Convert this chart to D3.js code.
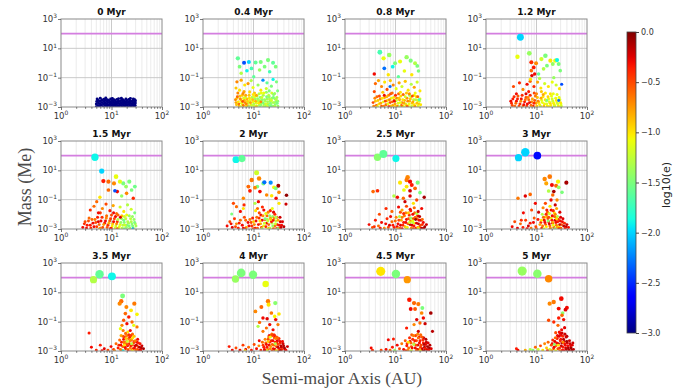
<!DOCTYPE html>
<html><head><meta charset="utf-8">
<script src="https://cdn.jsdelivr.net/npm/d3@7"></script>
<style>body{margin:0;background:#fff}svg{display:block}</style>
</head><body>
<svg id="fig" width="683" height="392"></svg>
<script>
// Snapshot labels
const times = ["0 Myr","0.4 Myr","0.8 Myr","1.2 Myr","1.5 Myr","2 Myr","2.5 Myr","3 Myr","3.5 Myr","4 Myr","4.5 Myr","5 Myr"];

// Each body: [semi-major axis (AU), log10 mass (Me), log10 eccentricity]
const snap00 = [[5.0,-2.98,-3],[5.0,-2.8,-3],[5.1,-2.62,-3],[5.2,-2.45,-3],[5.4,-2.9,-3],[5.5,-2.72,-3],[5.5,-2.55,-3],
[5.8,-2.97,-3],[5.9,-2.78,-3],[6.0,-2.6,-3],[6.0,-2.4,-3],[6.3,-2.88,-3],[6.4,-2.7,-3],[6.5,-2.52,-3],
[6.8,-2.99,-3],[6.9,-2.8,-3],[7.0,-2.63,-3],[7.1,-2.47,-3],[7.4,-2.9,-3],[7.5,-2.74,-3],[7.6,-2.56,-3],[7.7,-2.38,-3],
[8.0,-2.96,-3],[8.1,-2.81,-3],[8.2,-2.65,-3],[8.3,-2.5,-3],[8.7,-2.88,-3],[8.8,-2.7,-3],[8.9,-2.55,-3],
[9.3,-2.98,-3],[9.4,-2.8,-3],[9.5,-2.64,-3],[9.6,-2.45,-3],[10.0,-2.9,-3],[10.1,-2.73,-3],[10.3,-2.57,-3],[10.4,-2.42,-3],
[10.8,-2.97,-3],[10.9,-2.82,-3],[11.0,-2.66,-3],[11.2,-2.5,-3],[11.6,-2.9,-3],[11.7,-2.74,-3],[11.9,-2.58,-3],
[12.4,-2.99,-3],[12.5,-2.83,-3],[12.7,-2.67,-3],[12.8,-2.48,-3],[13.3,-2.91,-3],[13.4,-2.75,-3],[13.6,-2.6,-3],[13.8,-2.44,-3],
[14.2,-2.97,-3],[14.4,-2.8,-3],[14.6,-2.63,-3],[15.2,-2.89,-3],[15.4,-2.72,-3],[15.6,-2.55,-3],[15.7,-2.4,-3],
[16.3,-2.98,-3],[16.5,-2.82,-3],[16.7,-2.66,-3],[16.9,-2.5,-3],[17.5,-2.9,-3],[17.7,-2.74,-3],[17.9,-2.58,-3],
[18.7,-2.97,-3],[18.9,-2.8,-3],[19.1,-2.64,-3],[19.3,-2.46,-3],[20.0,-2.88,-3],[20.2,-2.71,-3],[20.5,-2.55,-3],
[21.4,-2.99,-3],[21.6,-2.82,-3],[21.9,-2.66,-3],[22.1,-2.48,-3],[23.0,-2.9,-3],[23.2,-2.74,-3],[23.5,-2.58,-3],[23.7,-2.42,-3],
[24.6,-2.97,-3],[24.9,-2.8,-3],[25.2,-2.63,-3],[26.3,-2.89,-3],[26.6,-2.72,-3],[26.9,-2.55,-3],[27.1,-2.45,-3],
[28.1,-2.98,-3],[28.4,-2.81,-3],[28.7,-2.65,-3],[28.9,-2.5,-3],[29.5,-2.9,-3],[29.7,-2.72,-3],[29.8,-2.57,-3]];

const snap04 = [[4.5,-2.7,-0.8],[4.7,-2.4,-1.0],[5.1,-2.8,-0.6],[5.4,-2.25,-0.9],[5.7,-2.55,-1.0],[6.1,-2.85,-0.8],[6.4,-2.4,-1.1],[6.8,-2.7,-0.7],[7.1,-2.95,-1.0],[7.4,-2.45,-0.85],[7.8,-2.75,-1.2],[8.2,-2.2,-0.9],[8.5,-2.55,-1.1],[8.9,-2.85,-0.95],[9.4,-2.35,-1.3],[9.8,-2.65,-1.05],[10.3,-2.95,-1.2],[10.8,-2.45,-1.4],[11.3,-2.75,-1.15],[11.8,-2.25,-1.3],[12.4,-2.6,-1.25],[13.0,-2.9,-1.35],[13.6,-2.35,-1.5],[14.2,-2.8,-1.3],[14.9,-2.5,-1.45],[15.6,-2.2,-1.35],[16.3,-2.8,-1.5],[17.0,-2.6,-1.3],[17.8,-2.95,-1.45],[18.6,-2.45,-1.35],[19.5,-2.8,-1.25],[20.4,-2.3,-1.5],[21.3,-2.6,-1.35],[22.3,-2.9,-1.5],[23.3,-2.4,-1.4],[24.3,-2.7,-1.3],[25.4,-2.95,-1.55],[26.6,-2.45,-1.4],[27.8,-2.65,-1.5],[29.0,-2.35,-1.35],[30.2,-2.6,-1.45],[10.5,-2.05,-0.9],[18.0,-2.0,-1.4],[23.0,-2.05,-1.2],[6.5,-1.95,-0.8],[14.0,-1.85,-1.0],[20.5,-1.9,-1.5],
[4.4,-2.5,-0.7],[4.6,-2.85,-0.9],[4.8,-2.3,-0.6],[5.0,-2.65,-1.0],[5.2,-2.95,-0.8],[5.5,-2.45,-0.7],[5.8,-2.75,-1.1],[6.0,-2.2,-0.9],[6.3,-2.9,-0.65],[6.6,-2.55,-0.85],[6.9,-2.35,-1.2],[7.2,-2.8,-0.7],[7.6,-2.6,-0.95],[7.9,-2.95,-0.75],[8.3,-2.4,-1.0],[8.7,-2.7,-0.8],[9.2,-2.9,-1.2],[9.6,-2.5,-0.9],[10.1,-2.8,-1.3],[10.5,-2.3,-1.1],[11.0,-2.6,-0.85],[11.6,-2.95,-1.25],[12.1,-2.45,-1.4],[12.7,-2.75,-1.0],[13.3,-2.55,-1.3],[13.9,-2.9,-1.45],[14.6,-2.35,-1.2],[15.2,-2.7,-1.5],[15.9,-2.95,-1.3],[16.6,-2.5,-1.4],[17.4,-2.8,-1.2],[18.2,-2.3,-1.5],[19.0,-2.65,-1.35],[19.9,-2.9,-1.5],[20.8,-2.45,-1.3],[21.7,-2.75,-1.45],[22.7,-2.55,-1.2],[23.7,-2.95,-1.4],[24.8,-2.35,-1.5],[25.9,-2.7,-1.35],[27.0,-2.85,-1.45],[28.2,-2.5,-1.3],[29.5,-2.75,-1.5],[30.5,-2.95,-1.4],[7.0,-2.2,-0.8],[9.9,-2.15,-1.0],[12.9,-2.1,-1.3],[16.0,-2.05,-1.1],[25.0,-2.15,-1.45],[4.9,-2.05,-0.7],[8.1,-2.98,-1.4],[11.3,-2.98,-0.9],[14.0,-2.65,-0.7],[18.8,-2.98,-1.1],[22.0,-2.98,-1.55],[26.5,-2.98,-1.25],[5.6,-2.98,-1.2],[6.1,-2.62,-0.55],
[4.7,-1.28,-0.7],[5.7,-1.17,-0.8],[6.7,-1.5,-1.0],[7.8,-1.4,-0.75],[9.8,-1.67,-1.1],[12.3,-1.5,-1.4],[17.9,-1.74,-1.2],[22.6,-1.58,-1.5],[5.3,-1.85,-1.0],[6.2,-2.08,-0.7],[8.4,-1.97,-0.95],[11.4,-2.2,-0.8],[14.3,-2.04,-1.1],[26.3,-2.08,-1.4],[4.5,-1.7,-0.9],[9.0,-1.2,-1.3],[18.5,-1.35,-1.6],[30,-1.9,-1.5],[20,-2.2,-1.3],
[4.9,0.32,-1.6],[6.5,0.02,-2.4],[8.1,0.07,-2.0],[11,0.03,-1.6],[13.9,0.07,-1.5],[19.4,0.2,-1.5],[24.4,0.02,-1.6],[27.5,-0.25,-1.5],[5.3,-0.25,-1.5],[7.4,-0.53,-1.9],[9.1,-0.37,-1.7],[13.2,-0.48,-1.4],[16.6,-0.25,-1.5],[20.9,-0.6,-1.7],[5.7,-0.7,-1.3],[10.1,-0.94,-1.6],[15.4,-1.17,-2.2],[24.4,-1.12,-1.9],[28.5,-1.28,-1.5]];

const snap08 = [[3.7,-2.95,-0.7],[4.0,-2.6,-0.9],[4.3,-2.3,-0.6],[4.7,-2.8,-1.0],[5.0,-2.45,-0.7],[5.3,-2.95,-0.55],[5.7,-2.65,-1.1],[6.1,-2.35,-0.8],[6.5,-2.85,-0.6],[6.9,-2.55,-0.95],[7.3,-2.2,-0.7],[7.8,-2.7,-0.5],[8.3,-2.4,-1.1],[8.8,-2.9,-0.8],[9.4,-2.55,-0.6],[10.0,-2.95,-1.0],[10.6,-2.4,-0.7],[11.3,-2.75,-1.15],[12.0,-2.5,-0.8],[12.7,-2.25,-0.95],[13.5,-2.7,-0.65],[14.3,-2.95,-1.05],[15.1,-2.55,-0.85],[16.0,-2.8,-1.2],[16.9,-2.4,-0.75],[17.9,-2.95,-1.0],[19.0,-2.6,-0.85],[20.2,-2.3,-1.1],[21.4,-2.75,-0.9],[22.8,-2.5,-1.2],[24.3,-2.95,-0.8],[25.8,-2.3,-1.0],[27.3,-2.55,-1.15],[28.9,-2.8,-0.9],[30.5,-2.45,-1.1],[11.5,-2.1,-0.6],[16.5,-2.05,-0.9],[8.0,-2.1,-0.5],[23.5,-2.2,-1.0],
[3.6,-2.7,-0.5],[3.9,-2.4,-0.7],[4.2,-2.9,-0.6],[4.5,-2.55,-0.9],[4.8,-2.25,-0.5],[5.1,-2.75,-0.8],[5.5,-2.4,-1.0],[5.9,-2.95,-0.7],[6.3,-2.6,-0.5],[6.7,-2.3,-0.85],[7.1,-2.8,-1.1],[7.6,-2.5,-0.7],[8.1,-2.95,-0.9],[8.6,-2.65,-0.6],[9.2,-2.35,-1.0],[9.8,-2.8,-0.8],[10.4,-2.55,-1.2],[11.0,-2.95,-0.7],[11.7,-2.4,-0.9],[12.4,-2.7,-1.1],[13.1,-2.9,-0.6],[13.9,-2.5,-1.0],[14.7,-2.75,-0.8],[15.6,-2.3,-1.2],[16.5,-2.9,-0.9],[17.5,-2.6,-0.7],[18.6,-2.8,-1.1],[19.7,-2.45,-0.9],[20.9,-2.95,-1.2],[22.2,-2.65,-0.8],[23.5,-2.85,-1.0],[25.0,-2.5,-1.3],[26.5,-2.75,-0.9],[28.1,-2.95,-1.1],[29.8,-2.6,-1.2],[31.5,-2.85,-1.0],[6.0,-2.2,-0.3],[10.0,-2.2,-0.4],[14.2,-2.15,-0.6],[21.5,-2.25,-0.5],[7.4,-2.98,-0.4],[12.0,-2.98,-1.3],[17.0,-2.98,-0.5],[24.2,-2.98,-0.7],[4.4,-2.98,-1.1],[9.5,-2.6,-0.3],[19.0,-2.2,-1.4],[27.5,-2.3,-0.6],
[4.0,-1.4,-0.6],[4.6,-1.2,-0.8],[5.3,-1.6,-0.7],[6.1,-1.3,-1.0],[6.8,-1.8,-0.5],[7.9,-1.2,-0.9],[9.0,-1.5,-0.7],[10.3,-1.75,-1.1],[11.8,-1.35,-0.8],[13.4,-1.6,-1.2],[15.6,-1.25,-0.9],[17.8,-1.85,-1.0],[20.5,-1.45,-1.3],[23.5,-1.65,-0.8],[26.8,-1.3,-1.2],[30.5,-1.9,-1.0],[3.8,-1.95,-0.5],[5.6,-2.0,-0.9],[8.6,-2.05,-0.6],[12.5,-2.0,-1.0],[18.8,-2.1,-0.7],[24.5,-2.05,-1.1],
[4.9,0.73,-1.7],[5.8,0.32,-1.1],[7.5,0.55,-1.4],[6.0,-0.36,-2.3],[8.8,-0.25,-1.9],[3.8,-0.75,-0.3],[9.8,-0.02,-1.5],[12.3,0.1,-1.1],[16.6,0.4,-1.4],[20,0.16,-1.5],[24.4,-0.02,-1.3],[27,-0.2,-1.5],[28.5,-0.55,-1.5],[11.4,-0.93,-1.6],[21,-0.8,-1.0],[7.2,-0.8,-1.0],[15,-0.55,-1.1],[7.8,-1.6,-2.3],[29.5,-2.5,-1.7]];

const snap12 = [[3.2,-2.75,-0.4],[3.4,-2.45,-0.35],[3.7,-2.95,-0.6],[4.0,-2.6,-0.3],[4.3,-2.25,-0.55],[4.7,-2.8,-0.4],[5.0,-2.45,-0.3],[5.4,-2.95,-0.65],[5.8,-2.65,-0.35],[6.2,-2.35,-0.5],[6.6,-2.8,-0.3],[7.0,-2.5,-0.6],[7.5,-2.2,-0.4],[8.0,-2.65,-0.7],[8.6,-2.95,-0.35],[9.2,-2.55,-0.55],[9.8,-2.75,-0.8],[10.4,-2.35,-0.9],[11.1,-2.7,-1.0],[11.9,-2.95,-0.9],[12.7,-2.55,-1.1],[13.5,-2.3,-1.0],[14.4,-2.8,-1.05],[15.4,-2.55,-1.15],[16.4,-2.95,-1.0],[17.4,-2.45,-1.1],[18.6,-2.75,-0.95],[19.8,-2.25,-1.1],[21.1,-2.6,-1.2],[22.5,-2.85,-1.0],[24.0,-2.4,-1.1],[25.5,-2.7,-1.15],[27.2,-2.95,-1.05],[29.0,-2.5,-1.15],[30.5,-2.8,-1.1],[10.0,-2.1,-0.7],[15.0,-2.05,-1.0],[21.5,-2.1,-1.1],[7.0,-1.95,-0.35],[12.5,-1.95,-0.9],
[3.1,-2.6,-0.3],[3.3,-2.9,-0.5],[3.6,-2.3,-0.4],[3.9,-2.75,-0.6],[4.2,-2.45,-0.35],[4.5,-2.95,-0.5],[4.9,-2.6,-0.7],[5.2,-2.2,-0.4],[5.6,-2.85,-0.3],[6.0,-2.5,-0.6],[6.4,-2.95,-0.45],[6.8,-2.35,-0.7],[7.3,-2.7,-0.3],[7.8,-2.9,-0.55],[8.3,-2.45,-0.8],[8.9,-2.75,-0.4],[9.5,-2.25,-0.65],[10.1,-2.95,-0.9],[10.8,-2.6,-0.7],[11.5,-2.85,-1.0],[12.3,-2.4,-0.8],[13.1,-2.7,-1.1],[14.0,-2.95,-0.9],[14.9,-2.5,-1.0],[15.9,-2.8,-1.15],[16.9,-2.3,-0.95],[18.0,-2.65,-1.1],[19.2,-2.9,-1.0],[20.4,-2.45,-1.2],[21.8,-2.75,-1.05],[23.2,-2.95,-1.15],[24.7,-2.55,-1.0],[26.3,-2.8,-1.2],[28.0,-2.35,-1.1],[29.8,-2.7,-1.0],[31.0,-2.95,-1.2],[6.2,-2.1,-0.25],[9.0,-2.05,-0.5],[13.6,-2.15,-0.8],[18.8,-2.1,-1.0],[25.5,-2.15,-1.1],[12.0,-2.98,-1.3],[17.5,-2.98,-1.05],[22.5,-2.98,-1.25],[27.0,-2.98,-1.0],[8.0,-2.98,-0.7],[4.0,-2.1,-0.3],[16.0,-2.55,-1.5],[27.5,-2.55,-2.3],
[3.5,-1.6,-0.5],[4.6,-1.35,-0.4],[5.4,-1.8,-0.7],[6.5,-1.45,-0.3],[7.5,-1.25,-0.6],[8.9,-1.6,-0.4],[10.5,-1.3,-0.8],[12.2,-1.7,-1.0],[14.5,-1.4,-1.2],[17.2,-1.6,-1.0],[20.5,-1.3,-1.1],[24.5,-1.5,-1.2],[28.5,-1.75,-1.0],[31.5,-1.45,-2.4],[11.5,-1.05,-1.3],[22.0,-1.0,-1.4],
[7.9,0.05,-0.4],[8.8,-0.3,-0.35],[7.9,-0.52,-0.6],[9.2,-0.75,-0.3],[9.8,-0.02,-0.7],[8.1,-0.86,-0.25],[7.6,-1.1,-1.0],
[15,0.5,-1.5],[12.5,0.27,-1.2],[18.8,0.16,-1.0],[23.5,0.16,-1.1],[25.5,0.2,-1.9],[16.1,-0.18,-1.5],[21,-0.07,-1.4],[27.5,-0.07,-1.5],[13.8,-0.4,-1.3],[11,-0.75,-1.6],[29.5,-0.52,-1.5],
[4.2,0.43,-1.1],[7.2,0.66,-1.4],[4.8,1.75,-2.0]];

const snap15 = [[2.9,-2.65,-0.4],[3.2,-2.95,-0.3],[3.5,-2.45,-0.5],[3.8,-2.75,-0.35],[4.1,-2.35,-0.6],[4.5,-2.85,-0.3],[4.9,-2.55,-0.5],[5.3,-2.2,-0.35],[5.7,-2.7,-0.6],[6.2,-2.45,-0.3],[6.7,-2.9,-0.5],[7.3,-2.6,-0.35],[7.9,-2.25,-0.7],[8.5,-2.75,-0.4],[9.2,-2.45,-0.55],[9.9,-2.95,-0.3],[10.6,-2.65,-0.9],[11.4,-2.3,-0.5],[12.2,-2.8,-1.2],[13.0,-2.5,-0.4],[13.9,-2.95,-1.3],[14.8,-2.7,-1.1],[15.8,-2.3,-1.4],[16.8,-2.75,-1.3],[17.9,-2.55,-1.45],[19.1,-2.3,-1.25],[20.3,-2.75,-1.5],[21.7,-2.6,-1.35],[23.1,-2.95,-1.45],[24.6,-2.5,-1.3],[26.2,-2.8,-1.5],[27.9,-2.35,-1.4],[29.6,-2.65,-1.3],[13.5,-2.05,-0.6],[18.0,-2.15,-1.2],[22.5,-2.1,-1.4],[11.0,-1.9,-0.3],[6.0,-1.9,-0.45],
[2.7,-2.9,-0.3],[3.0,-2.5,-0.5],[3.3,-2.75,-0.35],[3.6,-2.25,-0.6],[3.9,-2.95,-0.4],[4.3,-2.6,-0.3],[4.7,-2.35,-0.65],[5.1,-2.85,-0.45],[5.5,-2.5,-0.25],[6.0,-2.95,-0.6],[6.5,-2.2,-0.4],[7.0,-2.7,-0.75],[7.6,-2.45,-0.3],[8.2,-2.9,-0.55],[8.9,-2.6,-0.8],[9.6,-2.3,-0.45],[10.3,-2.8,-1.0],[11.0,-2.5,-0.3],[11.8,-2.95,-1.2],[12.6,-2.65,-0.7],[13.4,-2.35,-1.3],[14.3,-2.85,-1.1],[15.3,-2.55,-1.4],[16.3,-2.95,-1.25],[17.4,-2.4,-1.5],[18.5,-2.75,-1.2],[19.7,-2.9,-1.4],[21.0,-2.5,-1.3],[22.4,-2.8,-1.5],[23.9,-2.3,-1.25],[25.4,-2.65,-1.45],[27.0,-2.95,-1.3],[28.7,-2.55,-1.5],[30.5,-2.8,-1.35],[10.0,-2.05,-0.5],[12.0,-2.15,-0.3],[16.0,-2.1,-0.9],[20.0,-2.05,-1.1],[26.0,-2.15,-1.4],[8.0,-2.1,-0.6],[13.0,-2.98,-0.6],[18.0,-2.98,-1.5],[23.0,-2.98,-1.35],[9.5,-2.98,-0.35],[5.8,-2.98,-0.8],[26.5,-2.98,-2.1],[15.0,-2.2,-0.25],
[3.8,-1.7,-0.4],[4.5,-1.45,-0.6],[5.5,-1.9,-0.3],[6.6,-1.6,-0.7],[7.8,-1.3,-0.5],[9.3,-1.75,-0.35],[10.8,-1.4,-0.8],[12.6,-1.95,-0.6],[14.8,-1.5,-1.2],[17.5,-1.8,-1.0],[20.8,-1.35,-1.3],[24.5,-1.65,-1.2],[28.8,-1.9,-1.5],
[12.3,0.57,-1.1],[8.7,0.23,-0.6],[6.9,0.27,-0.35],[11.2,0.11,-0.7],[17.1,0.11,-1.5],[22.5,0.23,-1.5],[14.7,0.23,-1.15],[19.4,-0.11,-1.4],[25,-0.34,-1.5],[29,-0.11,-1.55],[8.7,-0.34,-0.6],[5.9,-0.84,-1.0],[13,-0.45,-0.3],[19.9,-0.57,-0.7],[27,-0.9,-0.4],[5.1,-1.14,-0.6],[15.9,-0.75,-1.4],
[11.7,-0.39,-2.4],[6.4,0.95,-2.0],[4.7,1.89,-1.9]];

const snap20 = [[3.6,-2.65,-0.3],[4.4,-2.85,-0.5],[5.2,-2.6,-0.35],[6.3,-2.95,-0.3],[7.0,-2.4,-0.6],[8.1,-2.8,-0.3],[9.0,-2.55,-0.5],[9.6,-2.25,-0.35],[10.4,-2.7,-0.7],[11.2,-2.45,-0.3],[12.0,-2.95,-0.55],[12.9,-2.25,-0.4],[13.8,-2.65,-0.8],[14.8,-2.4,-0.3],[15.8,-2.8,-1.1],[16.9,-2.35,-0.5],[18.0,-2.6,-0.3],[19.2,-2.45,-1.2],[20.5,-2.95,-0.4],[21.8,-2.25,-0.7],[23.2,-2.6,-1.3],[24.7,-2.4,-0.3],[26.2,-2.8,-0.6],[27.8,-2.45,-1.25],[29.5,-2.7,-0.35],[31.5,-2.95,-0.7],[34.0,-2.5,-0.2],[36.0,-2.75,-0.3],[14.0,-2.05,-0.3],[18.5,-2.1,-0.6],[24.0,-2.15,-1.4],[29.0,-2.2,-0.5],[17.5,-1.95,-1.1],[21.5,-1.75,-0.35],[15.0,-1.5,-0.4],[25.0,-1.85,-0.25],[12.0,-1.6,-0.6],
[3.0,-2.8,-0.3],[3.4,-2.5,-0.5],[3.8,-2.9,-0.25],[4.2,-2.3,-0.45],[4.6,-2.65,-0.7],[5.0,-2.95,-0.35],[5.5,-2.4,-0.6],[6.0,-2.75,-0.3],[6.6,-2.2,-0.5],[7.2,-2.9,-0.8],[7.8,-2.55,-0.3],[8.5,-2.35,-0.65],[9.2,-2.8,-0.4],[10.0,-2.5,-0.9],[10.8,-2.95,-0.35],[11.6,-2.2,-0.6],[12.5,-2.7,-0.3],[13.4,-2.45,-1.0],[14.4,-2.9,-0.5],[15.4,-2.1,-0.75],[16.5,-2.6,-1.2],[17.6,-2.85,-0.4],[18.8,-2.35,-1.3],[20.0,-2.7,-0.6],[21.3,-2.95,-1.25],[22.7,-2.5,-0.35],[24.1,-2.8,-1.4],[25.6,-2.25,-0.7],[27.2,-2.65,-1.2],[28.9,-2.95,-0.45],[30.7,-2.4,-0.8],[32.6,-2.75,-0.3],[35.0,-2.9,-0.2],[37.5,-2.5,-0.25],[40.0,-2.85,-0.15],[13.0,-1.9,-0.5],[16.0,-1.7,-0.3],[19.5,-1.85,-0.7],[23.5,-1.6,-1.1],[26.5,-2.0,-0.4],[11.0,-1.75,-1.0],[21.0,-2.1,-1.4],[14.8,-2.98,-1.3],[19.2,-2.98,-1.1],[24.8,-2.98,-0.6],[9.8,-2.98,-0.5],[30.0,-2.98,-1.5],[17.0,-2.3,-1.5],[22.0,-2.35,-0.9],[28.0,-2.2,-1.3],[6.8,-2.98,-0.4],[33.5,-2.2,-0.2],[5.5,-1.8,-0.3],
[12.9,0.45,-0.7],[9.2,0.34,-0.65],[15.7,0.11,-1.5],[25.5,-0.16,-1.05],[27.5,-0.23,-1.5],[32,-0.5,-0.7],[31,-0.05,-0.1],[45,-0.7,-0.05],[11.9,-0.11,-1.5],[10.7,-0.18,-0.7],[13.4,-0.45,-0.3],[8.5,-0.4,-0.35],[7.9,-0.11,-0.6],[18.2,-0.68,-0.7],[22.9,-0.73,-1.0],[28,-0.9,-0.3],[32,-1.25,-1.0],[12.5,-1.14,-0.3],[10.7,-1.25,-1.3],[6.3,-0.9,-0.7],[6.5,-1.36,-0.4],[4.0,-1.25,-0.5],[4.6,-1.48,-0.6],[3.7,-1.98,-1.5],[6.3,-1.6,-1.0],[44,-1.3,-0.2],
[11.5,0.84,-1.2],[16.4,0.18,-2.3],[21.9,0.16,-2.2],
[4.5,1.73,-1.9],[5.9,1.8,-1.6]];

const snap25 = [[3.8,-2.85,-0.4],[5.0,-2.95,-0.35],[6.4,-2.65,-0.3],[7.2,-2.9,-0.5],[8.9,-2.75,-0.35],[9.9,-2.45,-0.6],[10.8,-2.85,-0.3],[11.7,-2.4,-0.5],[12.6,-2.75,-0.25],[13.5,-2.2,-0.65],[14.5,-2.55,-0.35],[15.5,-2.85,-0.9],[16.5,-2.35,-0.3],[17.6,-2.65,-0.6],[18.7,-2.05,-0.4],[19.9,-2.45,-0.7],[21.2,-2.75,-0.25],[22.5,-2.3,-0.5],[23.9,-2.6,-1.0],[25.3,-2.95,-0.4],[26.8,-2.3,-0.6],[28.4,-2.65,-0.2],[30.1,-2.9,-0.5],[31.9,-2.4,-0.25],[33.8,-2.7,-0.4],[36.5,-2.95,-0.2],[16.0,-1.9,-0.7],[20.0,-1.75,-0.35],[24.0,-1.9,-0.6],[12.5,-1.85,-0.5],[27.5,-2.1,-0.3],[22.0,-2.55,-1.3],
[3.0,-2.7,-0.3],[3.5,-2.9,-0.5],[4.0,-2.4,-0.35],[4.6,-2.8,-0.6],[5.3,-2.55,-0.3],[6.0,-2.95,-0.7],[6.8,-2.3,-0.4],[7.6,-2.75,-0.25],[8.5,-2.5,-0.6],[9.4,-2.9,-0.35],[10.3,-2.2,-0.7],[11.2,-2.65,-0.3],[12.1,-2.95,-0.55],[13.0,-2.4,-0.8],[14.0,-2.75,-0.4],[15.0,-2.1,-0.65],[16.0,-2.55,-0.3],[17.1,-2.9,-1.0],[18.2,-2.3,-0.5],[19.4,-2.7,-0.2],[20.6,-2.95,-0.7],[21.9,-2.45,-1.1],[23.2,-2.8,-0.35],[24.6,-2.2,-0.6],[26.1,-2.6,-0.25],[27.6,-2.9,-0.8],[29.2,-2.4,-0.3],[31.0,-2.75,-0.5],[33.0,-2.95,-0.15],[35.5,-2.55,-0.3],[38.0,-2.85,-0.1],[41.0,-2.7,-0.2],[14.5,-1.95,-0.4],[18.0,-1.9,-0.9],[22.0,-2.0,-0.3],[26.5,-1.95,-1.3],[12.0,-2.15,-1.3],[20.0,-2.25,-1.4],[16.5,-2.98,-1.2],[22.5,-2.98,-0.5],[28.5,-2.98,-1.1],[11.0,-2.98,-0.8],[25.0,-2.35,-0.1],[30.0,-2.15,-0.15],[34.0,-2.35,-0.6],[8.0,-2.15,-0.3],[19.0,-2.55,-1.2],[13.5,-2.98,-0.3],
[6.5,-1.6,-0.4],[8.5,-1.8,-0.6],[11.5,-1.5,-0.3],[13.5,-1.7,-0.8],[16.5,-1.45,-0.5],[19.5,-1.65,-0.3],[23.5,-1.55,-0.6],[28.0,-1.8,-0.2],[33.0,-1.6,-0.3],[4.8,-2.0,-0.5],
[17.4,0.52,-0.7],[16.6,0.34,-0.65],[12.3,0.16,-1.0],[19.4,0.23,-0.3],[27.5,0.16,-1.5],[21,0.0,-0.35],[16.6,-0.11,-1.0],[24.4,-0.23,-0.6],[30.5,-0.52,-1.5],[19.4,-0.39,-0.2],[14.7,-0.34,-1.1],[9.3,-0.75,-1.3],[10.9,-0.84,-0.3],[14.3,-0.9,-0.6],[19.4,-0.75,-0.25],[37,-0.84,-0.1],[26.3,-1.02,-0.5],[3.6,-0.45,-0.6],[4.4,-0.39,-0.4],[15.4,-1.14,-0.2],[22.6,-1.25,-1.0],
[4.4,1.89,-1.45],[10.2,1.8,-1.9],[5.75,2.11,-1.6]];

const snap30 = [[12.2,-2.55,-0.4],[13.2,-2.8,-0.65],[14.2,-2.4,-0.3],[15.2,-2.7,-0.55],[16.2,-2.15,-0.8],[17.3,-2.5,-0.35],[18.4,-2.8,-0.6],[19.6,-2.25,-1.1],[20.8,-2.6,-0.3],[22.1,-2.9,-0.5],[23.4,-2.4,-0.25],[24.8,-2.75,-0.65],[26.3,-2.5,-0.35],[27.9,-2.85,-1.0],[29.5,-2.45,-0.3],[31.3,-2.7,-0.55],[33.4,-2.3,-0.25],[35.8,-2.6,-0.4],[38.5,-2.85,-0.15],[16.5,-1.85,-0.6],[19.5,-1.7,-0.3],[22.5,-1.9,-1.0],[17.5,-2.2,-0.5],[24.5,-2.2,-0.4],[14.5,-2.2,-0.9],[7.5,-2.6,-0.35],[5.0,-2.4,-0.4],[10.0,-2.98,-0.6],
[3.3,-2.85,-0.3],[3.7,-2.5,-0.5],[4.2,-2.95,-0.25],[4.8,-2.65,-0.6],[5.4,-2.9,-0.35],[6.1,-2.4,-0.45],[6.9,-2.8,-0.2],[7.8,-2.95,-0.65],[8.7,-2.55,-0.3],[9.7,-2.85,-0.5],[10.7,-2.35,-0.35],[11.7,-2.7,-0.8],[12.7,-2.95,-0.4],[13.7,-2.2,-0.6],[14.7,-2.55,-0.3],[15.7,-2.85,-1.0],[16.8,-2.3,-0.5],[17.9,-2.65,-0.25],[19.0,-2.95,-0.9],[20.2,-2.4,-0.35],[21.5,-2.75,-1.1],[22.8,-2.15,-0.6],[24.2,-2.55,-0.3],[25.7,-2.9,-0.8],[27.2,-2.35,-0.45],[28.8,-2.7,-0.2],[30.5,-2.95,-0.6],[32.5,-2.5,-0.3],[34.5,-2.8,-0.15],[37.0,-2.95,-0.35],[40.0,-2.7,-0.2],[43.0,-2.9,-0.3],[15.5,-2.0,-0.4],[18.0,-1.95,-1.2],[20.5,-2.1,-0.3],[23.5,-2.0,-0.7],[26.0,-2.15,-1.3],[14.0,-2.98,-1.2],[18.5,-2.98,-0.6],[23.0,-2.98,-1.4],[28.0,-2.98,-0.4],[17.0,-2.45,-1.45],[21.0,-2.55,-0.8],[12.5,-2.4,-1.0],[30.0,-2.2,-0.25],[9.0,-2.25,-0.55],[6.5,-2.98,-0.3],[25.0,-2.3,-1.0],
[5.5,-1.9,-0.3],[8.0,-1.7,-0.5],[11.0,-1.85,-0.2],[13.5,-1.55,-0.7],[16.0,-1.7,-0.35],[18.5,-1.45,-1.0],[21.5,-1.75,-0.4],[25.0,-1.6,-0.8],[29.0,-1.85,-0.25],[13.0,-2.0,-1.3],
[14.5,0.41,-0.7],[18.3,0.57,-0.65],[15.6,0.11,-0.8],[26.7,0.23,-1.05],[20.2,0.0,-0.3],[24.4,-0.05,-0.6],[39,0.16,-0.1],[27.5,-0.16,-1.4],[17.4,-0.41,-1.3],[22.0,-0.45,-0.1],[32,-0.5,-1.5],[21,-0.68,-0.6],[19.4,-1.02,-0.3],[25.5,-1.02,-0.7],[6.0,-0.75,-0.25],[7.5,-0.64,-0.6],[4.3,-0.9,-0.65],[15,-1.25,-0.5],[23.5,-1.36,-0.2],[9.5,-1.25,-0.3],
[4.4,1.86,-2.0],[10.4,2.0,-2.6],[6.0,2.23,-2.0]];

const snap35 = [[14.0,-2.6,-0.4],[15.0,-2.9,-0.65],[15.8,-2.4,-0.35],[16.6,-2.7,-0.6],[17.4,-2.2,-0.3],[18.2,-2.5,-0.7],[19.0,-2.85,-0.4],[19.9,-2.35,-0.55],[20.8,-2.65,-0.3],[21.7,-2.15,-0.65],[22.6,-2.5,-0.4],[23.6,-2.8,-0.7],[24.6,-2.25,-0.3],[25.7,-2.6,-0.6],[26.8,-2.85,-0.35],[28.0,-2.35,-0.55],[29.2,-2.65,-0.2],[30.4,-2.95,-0.45],[31.8,-2.4,-0.3],[33.3,-2.7,-0.5],[35.0,-2.95,-0.2],[36.8,-2.5,-0.35],[39.0,-2.8,-0.15],[20.0,-1.95,-0.7],[23.0,-2.05,-0.35],[26.0,-1.85,-0.6],[18.0,-2.05,-0.4],[21.0,-1.7,-1.0],[25.0,-2.2,-0.8],[17.0,-1.6,-0.65],
[4.0,-2.75,-0.3],[5.0,-2.95,-0.4],[6.0,-2.6,-0.35],[7.2,-2.85,-0.25],[8.5,-2.95,-0.5],[9.8,-2.7,-0.3],[11.0,-2.9,-0.45],[12.3,-2.5,-0.6],[13.5,-2.8,-0.35],[14.5,-2.25,-0.6],[15.3,-2.6,-0.3],[16.1,-2.95,-0.7],[16.9,-2.0,-0.5],[17.7,-2.4,-0.65],[18.5,-2.75,-0.3],[19.4,-2.15,-0.9],[20.3,-2.55,-0.5],[21.2,-2.9,-0.65],[22.1,-1.9,-0.4],[23.1,-2.3,-0.7],[24.1,-2.65,-0.35],[25.2,-2.95,-0.6],[26.3,-2.1,-1.0],[27.4,-2.45,-0.5],[28.6,-2.8,-0.3],[29.8,-2.3,-0.65],[31.1,-2.6,-0.2],[32.5,-2.9,-0.5],[34.0,-2.45,-0.35],[35.8,-2.75,-0.15],[37.8,-2.95,-0.3],[40.0,-2.65,-0.2],[43.0,-2.85,-0.1],[17.0,-2.98,-1.9],[21.5,-2.98,-0.4],[26.0,-2.98,-1.0],[30.5,-2.98,-0.6],[19.0,-1.8,-0.6],[24.0,-1.95,-0.45],[28.0,-2.0,-0.9],[15.5,-1.95,-0.8],[20.5,-2.35,-1.2],[25.0,-2.5,-1.3],[18.0,-2.6,-1.0],[33.0,-2.2,-0.3],[11.5,-2.98,-0.7],[6.5,-2.98,-0.3],
[15.6,0.39,-0.6],[14.5,0.23,-0.7],[28.3,0.23,-0.65],[19.7,0.0,-0.7],[24.4,-0.23,-1.0],[32,-0.5,-1.05],[18.8,-0.45,-0.6],[22,-0.68,-0.35],[17.4,-0.9,-0.55],[25.5,-1.02,-0.6],[20.2,-1.14,-0.3],[16.1,-1.25,-0.7],[27.5,-1.25,-1.1],[32,-1.36,-0.65],[3.6,-1.77,-0.35],[15,-1.48,-1.1],[23.5,-1.6,-0.3],
[16.6,0.75,-1.5],
[4.4,1.86,-1.3],[5.8,2.23,-1.6],[10.2,2.09,-1.9]];

const snap40 = [[15.5,-2.6,-0.45],[16.5,-2.9,-0.3],[17.5,-2.45,-0.6],[18.5,-2.75,-0.35],[19.5,-2.2,-0.5],[20.5,-2.6,-0.3],[21.5,-2.85,-0.7],[22.5,-2.3,-0.4],[23.6,-2.55,-0.6],[24.7,-2.85,-0.3],[25.9,-2.1,-0.55],[27.1,-2.4,-0.35],[28.3,-2.7,-0.6],[29.6,-2.3,-0.25],[31.0,-2.55,-0.5],[32.4,-2.85,-0.3],[34.0,-2.45,-0.4],[35.7,-2.75,-0.2],[37.5,-2.35,-0.3],[39.5,-2.65,-0.15],[42.0,-2.9,-0.25],[23.0,-1.85,-0.6],[26.0,-1.95,-0.35],[28.5,-2.05,-0.5],[20.5,-1.95,-0.3],[32.0,-2.15,-0.4],
[3.3,-2.7,-0.35],[3.8,-2.95,-0.3],[4.5,-2.8,-0.5],[5.4,-2.95,-0.3],[6.2,-2.6,-0.45],[7.0,-2.9,-0.25],[8.0,-2.75,-0.6],[9.1,-2.95,-0.35],[10.3,-2.55,-0.5],[11.5,-2.85,-0.3],[12.8,-2.65,-0.7],[14.0,-2.95,-0.4],[15.0,-2.4,-0.6],[16.0,-2.75,-0.35],[17.0,-2.2,-0.7],[18.0,-2.55,-0.3],[19.0,-2.9,-0.55],[20.0,-2.05,-0.65],[21.0,-2.4,-0.4],[22.0,-2.7,-0.75],[23.1,-1.95,-0.5],[24.2,-2.3,-0.3],[25.3,-2.6,-0.6],[26.5,-2.9,-0.25],[27.7,-2.15,-0.7],[29.0,-2.45,-0.4],[30.3,-2.75,-0.2],[31.7,-2.95,-0.55],[33.2,-2.35,-0.3],[34.8,-2.65,-0.15],[36.5,-2.9,-0.4],[38.5,-2.5,-0.2],[41.0,-2.8,-0.1],[44.0,-2.95,-0.3],[47.0,-2.7,-0.2],[18.5,-2.98,-1.1],[23.5,-2.98,-0.5],[28.0,-2.98,-1.0],[21.5,-2.05,-1.1],[25.5,-1.9,-0.4],[16.5,-2.98,-0.25],[27.0,-2.5,-1.3],[19.5,-2.35,-0.9],[30.0,-2.1,-0.6],[34.0,-2.98,-0.1],[13.0,-2.3,-0.3],[6.8,-2.98,-1.0],
[10.9,-0.3,-0.7],[14.3,0.0,-0.6],[22.6,-0.41,-0.65],[32,-0.48,-1.0],[15.4,-0.75,-0.3],[18.6,-0.8,-0.25],[26.3,-0.64,-1.05],[27.5,-0.86,-0.3],[13.2,-1.05,-0.6],[21,-1.2,-0.3],[30.5,-1.2,-0.65],[12.3,-1.32,-1.3],[18,-1.43,-0.6],[24.4,-1.55,-0.3],[15.4,-1.66,-0.65],
[19.4,0.39,-0.65],[19.9,0.16,-1.0],[27,0.27,-1.45],
[4.4,1.91,-1.4],[17.4,1.57,-1.1],[5.7,2.32,-1.5],[9.8,2.2,-1.5]];

const snap45 = [[17.0,-2.5,-0.4],[18.2,-2.8,-0.6],[19.4,-2.35,-0.3],[20.6,-2.7,-0.55],[21.9,-2.2,-0.4],[23.2,-2.5,-0.65],[24.6,-2.8,-0.3],[26.0,-2.3,-0.5],[27.5,-2.6,-0.25],[29.0,-2.9,-0.6],[30.6,-2.3,-0.35],[32.2,-2.6,-0.5],[33.9,-2.85,-0.2],[35.7,-2.45,-0.35],[37.6,-2.75,-0.15],[39.7,-2.55,-0.3],[41.9,-2.9,-0.2],[44.3,-2.45,-0.25],[46.8,-2.8,-0.1],[25.0,-1.95,-0.45],[29.5,-2.05,-0.3],[31.5,-1.9,-0.6],[36.0,-2.1,-0.2],[21.0,-1.9,-0.55],[40.0,-2.2,-0.15],
[3.3,-2.8,-0.3],[3.5,-2.95,-0.4],[5.2,-2.95,-0.5],[6.5,-2.9,-0.3],[7.8,-2.95,-0.6],[8.7,-2.75,-0.35],[9.7,-2.95,-1.4],[10.8,-2.6,-0.3],[12.0,-2.85,-0.5],[13.3,-2.5,-0.65],[14.5,-2.9,-0.3],[15.6,-2.3,-0.55],[16.7,-2.65,-0.35],[17.8,-2.95,-0.7],[19.0,-2.1,-0.4],[20.2,-2.45,-0.6],[21.4,-2.8,-0.3],[22.7,-1.95,-0.65],[24.0,-2.3,-0.35],[25.4,-2.6,-0.5],[26.8,-2.9,-0.25],[28.3,-2.1,-0.6],[29.8,-2.45,-0.3],[31.4,-2.75,-0.45],[33.0,-2.95,-0.2],[34.8,-2.25,-0.4],[36.7,-2.55,-0.15],[38.7,-2.85,-0.35],[40.8,-2.4,-0.2],[43.0,-2.7,-0.1],[45.5,-2.95,-0.3],[48.0,-2.6,-0.15],[51.0,-2.85,-0.25],[20.5,-2.98,-1.2],[26.0,-2.98,-0.6],[31.0,-2.98,-1.0],[23.0,-2.55,-1.3],[27.5,-1.85,-0.7],[18.0,-2.4,-1.0],[37.0,-2.98,-0.1],[33.5,-2.05,-0.55],[16.0,-2.98,-0.45],
[18.8,0.5,-0.35],[23.3,0.27,-0.6],[28.3,0.2,-0.65],[20,-0.14,-0.3],[24.4,-0.14,-0.55],[34,-0.07,-1.5],[33,-0.41,-0.7],[50,-0.41,-0.1],[35.6,-0.75,-0.3],[26.3,-0.86,-0.25],[30.5,-1.09,-0.6],[23.3,-1.2,-0.7],[38.5,-1.14,-0.2],[16.6,-1.43,-0.35],[28.3,-1.66,-0.2],[7.2,-2.23,-0.3],[9.1,-2.18,-0.35],[54,-1.66,-0.15],
[17.1,1.86,-0.75],[10.2,2.25,-1.5],[5.1,2.43,-1.0]];

const snap50 = [[20.5,-2.5,-0.3],[21.8,-2.85,-0.5],[23.0,-2.35,-0.25],[24.3,-2.65,-0.6],[25.7,-2.15,-0.35],[27.2,-2.5,-0.2],[28.7,-2.8,-0.4],[30.2,-2.2,-0.3],[31.8,-2.45,-0.15],[33.4,-2.75,-0.35],[35.2,-2.35,-0.2],[37.0,-2.6,-0.3],[38.9,-2.9,-0.15],[40.8,-2.45,-0.25],[42.8,-2.8,-0.1],[45.0,-2.3,-0.2],[47.3,-2.65,-0.3],[49.7,-2.95,-0.15],[52.5,-2.45,-0.2],[26.0,-1.95,-0.3],[29.5,-1.8,-0.25],[33.0,-2.0,-0.4],[36.5,-1.85,-0.2],[24.0,-1.75,-0.5],[40.0,-2.0,-0.15],[31.5,-1.55,-0.3],
[4.0,-2.85,-0.35],[4.3,-2.95,-0.3],[6.0,-2.95,-0.8],[7.5,-2.9,-1.3],[8.5,-2.95,-1.45],[9.5,-2.75,-0.6],[10.8,-2.9,-1.2],[12.0,-2.65,-0.5],[13.3,-2.95,-1.0],[14.5,-2.5,-0.7],[15.8,-2.8,-0.9],[17.0,-2.4,-0.6],[18.3,-2.9,-1.2],[19.6,-2.6,-0.5],[21.0,-2.25,-0.4],[22.3,-2.75,-0.3],[23.6,-2.1,-0.6],[25.0,-2.45,-0.3],[26.5,-2.85,-0.5],[28.0,-2.0,-0.25],[29.5,-2.3,-0.4],[31.0,-2.65,-0.2],[32.6,-2.95,-0.35],[34.3,-2.2,-0.15],[36.0,-2.5,-0.3],[37.8,-2.8,-0.2],[39.7,-2.35,-0.1],[41.7,-2.65,-0.3],[43.8,-2.95,-0.15],[46.0,-2.5,-0.2],[48.5,-2.8,-0.1],[51.0,-2.6,-0.25],[54.0,-2.9,-0.15],[24.0,-2.98,-1.1],[29.0,-2.98,-0.6],[35.0,-2.98,-0.3],[20.0,-2.98,-0.8],[27.0,-2.6,-1.0],[33.5,-2.4,-0.7],[22.5,-2.55,-1.45],[30.5,-1.9,-0.3],[38.5,-2.05,-0.2],[16.5,-2.98,-0.4],
[31,0.57,-0.3],[21.9,0.34,-0.65],[18.2,0.23,-0.7],[40,-0.05,-0.3],[37.5,-0.18,-0.25],[27.5,-0.11,-0.3],[33,-0.41,-1.45],[32,-0.57,-0.6],[34.5,-0.86,-0.3],[27.5,-0.75,-0.35],[22,-1.02,-0.4],[26.6,-1.25,-0.6],[17.4,-0.9,-0.5],[36,-1.41,-0.25],[28.3,-1.7,-0.3],[32,-1.77,-0.2],
[17.4,1.93,-0.7],[10.4,2.27,-1.45],[5.2,2.45,-1.4]];

const snapshots = [snap00,snap04,snap08,snap12,snap15,snap20,snap25,snap30,snap35,snap40,snap45,snap50];

// Axis ticks (decade exponents) and colour-bar ticks
const massTickExp = [3,1,-1,-3];
const axisTickExp = [0,1,2];
const eccTicks = [0,-0.5,-1,-1.5,-2,-2.5,-3];
const giantMass = 100; // reference mass line (Me)

// matplotlib "jet" colour map
const jetR = [[0,0],[0.35,0],[0.66,1],[0.89,1],[1,0.5]];
const jetG = [[0,0],[0.125,0],[0.375,1],[0.64,1],[0.91,0],[1,0]];
const jetB = [[0,0.5],[0.11,1],[0.34,1],[0.65,0],[1,0]];
function seg(pts,t){
  t = Math.max(0,Math.min(1,t));
  for(let i=1;i<pts.length;i++){
    if(t<=pts[i][0]){
      const [x0,y0]=pts[i-1],[x1,y1]=pts[i];
      return y0+(y1-y0)*(t-x0)/(x1-x0);
    }
  }
  return pts[pts.length-1][1];
}
function jet(t){
  return d3.rgb(255*seg(jetR,t),255*seg(jetG,t),255*seg(jetB,t)).toString();
}
const eScale = d3.scaleLinear().domain([-3,0]).range([0,1]).clamp(true);
const colorOf = le => jet(eScale(le));
const radiusOf = lm => Math.sqrt(2 + 2*Math.pow(Math.pow(10,lm),0.4));

const svg = d3.select("#fig");
const colLeft=[61,203,345,486], rowTop=[19,141,263], pw=101, ph=88;
const FONT = "'DejaVu Sans', sans-serif";

function pow10Label(sel, exp, fs){
  sel.append("tspan").text("10");
  sel.append("tspan").attr("dy",-fs*0.45).attr("font-size",fs*0.7)
     .text(exp<0 ? "\u2212"+(-exp) : String(exp));
}

const defs = svg.append("defs");

snapshots.forEach((pts,i)=>{
  const x0 = colLeft[i%4], y0 = rowTop[Math.floor(i/4)];
  const x = d3.scaleLog().domain([1,100]).range([x0,x0+pw]);
  const y = d3.scaleLog().domain([1e-3,1e3]).range([y0+ph,y0]);
  const g = svg.append("g");

  defs.append("clipPath").attr("id","clip"+i)
    .append("rect").attr("x",x0).attr("y",y0).attr("width",pw).attr("height",ph);

  // grid
  const minor = [];
  [1,10].forEach(d=>{for(let k=2;k<=9;k++) minor.push(k*d);});
  g.append("g").selectAll("line").data(minor).join("line")
    .attr("x1",d=>x(d)).attr("x2",d=>x(d)).attr("y1",y0).attr("y2",y0+ph)
    .attr("stroke","#e6e6e6").attr("stroke-width",0.8);
  g.append("line").attr("x1",x(10)).attr("x2",x(10)).attr("y1",y0).attr("y2",y0+ph)
    .attr("stroke","#c4c4c4").attr("stroke-width",0.9);
  g.append("g").selectAll("line").data([10,0.1]).join("line")
    .attr("x1",x0).attr("x2",x0+pw).attr("y1",d=>y(d)).attr("y2",d=>y(d))
    .attr("stroke","#c4c4c4").attr("stroke-width",0.9);

  // reference mass line
  g.append("line").attr("x1",x0).attr("x2",x0+pw)
    .attr("y1",y(giantMass)).attr("y2",y(giantMass))
    .attr("stroke","#d47ee0").attr("stroke-width",1.6);

  // bodies
  g.append("g").attr("clip-path",`url(#clip${i})`)
    .selectAll("circle").data(pts).join("circle")
    .attr("cx",d=>x(d[0])).attr("cy",d=>y(Math.pow(10,d[1])))
    .attr("r",d=>radiusOf(d[1]))
    .attr("fill",d=>colorOf(d[2]));

  // frame
  g.append("rect").attr("x",x0).attr("y",y0).attr("width",pw).attr("height",ph)
    .attr("fill","none").attr("stroke","#8a8a8a").attr("stroke-width",1);

  // ticks
  const xAxis = g.append("g").attr("transform",`translate(0,${y0+ph})`)
    .call(d3.axisBottom(x).tickValues(axisTickExp.map(e=>Math.pow(10,e))).tickFormat("").tickSize(3));
  const xMinor = g.append("g").attr("transform",`translate(0,${y0+ph})`)
    .call(d3.axisBottom(x).tickValues(minor).tickFormat("").tickSize(1.8));
  const yAxis = g.append("g").attr("transform",`translate(${x0},0)`)
    .call(d3.axisLeft(y).tickValues(massTickExp.map(e=>Math.pow(10,e))).tickFormat("").tickSize(3));
  [xAxis,xMinor,yAxis].forEach(a=>{
    a.select(".domain").remove();
    a.selectAll("line").attr("stroke","#555").attr("stroke-width",0.8);
  });

  // tick labels
  axisTickExp.forEach(e=>{
    const t = g.append("text").attr("x",x(Math.pow(10,e))).attr("y",y0+ph+12)
      .attr("text-anchor","middle").attr("font-family",FONT).attr("font-size",8.5).attr("fill","#333");
    pow10Label(t,e,8.5);
  });
  massTickExp.forEach(e=>{
    const t = g.append("text").attr("x",x0-4).attr("y",y(Math.pow(10,e))+3)
      .attr("text-anchor","end").attr("font-family",FONT).attr("font-size",8.5).attr("fill","#333");
    pow10Label(t,e,8.5);
  });

  // title
  g.append("text").attr("x",x0+pw/2).attr("y",y0-4).attr("text-anchor","middle")
    .attr("font-family",FONT).attr("font-weight","bold").attr("font-size",9).attr("fill","#111")
    .text(times[i]);
});

// shared axis labels
svg.append("text").attr("x",342).attr("y",384).attr("text-anchor","middle")
  .attr("font-family","'Liberation Serif', 'DejaVu Serif', serif").attr("font-size",17.5).attr("fill","#4a4a4a")
  .text("Semi-major Axis (AU)");
svg.append("text").attr("transform","translate(31,187) rotate(-90)").attr("text-anchor","middle")
  .attr("font-family","'Liberation Serif', 'DejaVu Serif', serif").attr("font-size",18).attr("fill","#4a4a4a")
  .text("Mass (Me)");

// colour bar
const cbX=627, cbY=32, cbW=9, cbH=301;
const grad = defs.append("linearGradient").attr("id","jetGrad")
  .attr("x1",0).attr("y1",0).attr("x2",0).attr("y2",1);
d3.range(0,1.0001,0.02).forEach(o=>{
  grad.append("stop").attr("offset",o).attr("stop-color",jet(1-o));
});
svg.append("rect").attr("x",cbX).attr("y",cbY).attr("width",cbW).attr("height",cbH)
  .attr("fill","url(#jetGrad)").attr("stroke","#444").attr("stroke-width",0.8);
const cbScale = d3.scaleLinear().domain([-3,0]).range([cbY+cbH,cbY]);
const cbAxis = svg.append("g").attr("transform",`translate(${cbX+cbW},0)`)
  .call(d3.axisRight(cbScale).tickValues(eccTicks).tickSize(3)
    .tickFormat(v=>(v<0?"\u2212":"")+Math.abs(v).toFixed(1)));
cbAxis.select(".domain").remove();
cbAxis.selectAll("line").attr("stroke","#444");
cbAxis.selectAll("text").attr("font-family",FONT).attr("font-size",8).attr("fill","#333").attr("x",5);
svg.append("text").attr("transform","translate(670,185) rotate(-90)").attr("text-anchor","middle")
  .attr("font-family",FONT).attr("font-size",11).attr("fill","#222").text("log10(e)");
</script>
</body></html>
